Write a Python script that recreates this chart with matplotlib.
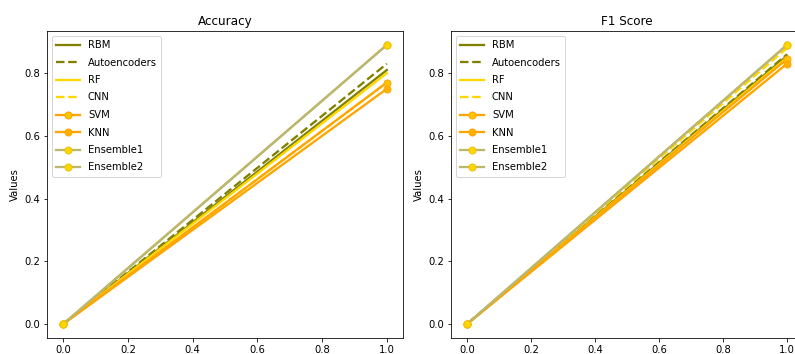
#import relevant libraries
import numpy as np
import matplotlib.pyplot as plt

#model names and scores
models = ['RBM', 'Autoencoders', 'RF', 'CNN', 'SVM', 'KNN', 'Ensemble1', 'Ensemble2']
accuracy = [0.81, 0.83, 0.80, 0.77, 0.77, 0.75, 0.89, 0.89]
f1_score = [0.855, 0.86, 0.85, 0.88, 0.845, 0.83, 0.89, 0.89]
x_points = [0, 1]

#line styles per model
styles = {
    'RBM': dict(color='#808000', ls='-'),
    'Autoencoders': dict(color='#808000', ls='--'),
    'RF': dict(color='#FFD700', ls='-'),
    'CNN': dict(color='#FFD700', ls='--'),
    'SVM': dict(color='#FFA500', ls='-', marker='o', mfc='#FFC400', mec='#FFA500'),
    'KNN': dict(color='#FFA500', ls='-', marker='o', mfc='#FFB000', mec='#FFA500'),
    'Ensemble1': dict(color='#BDB76B', ls='-', marker='o', mfc='#FFD700', mec='#F0C000'),
    'Ensemble2': dict(color='#BDB76B', ls='-', marker='o', mfc='#FFD700', mec='#F0C000'),
}

dpi = 72
fig = plt.figure(figsize=(795 / dpi, 354 / dpi), dpi=dpi)
ax1 = fig.add_axes([47 / 795, 16 / 354, 356 / 795, 307 / 354])
ax2 = fig.add_axes([451 / 795, 16 / 354, 352 / 795, 307 / 354])

for ax, scores, title in [(ax1, accuracy, 'Accuracy'), (ax2, f1_score, 'F1 Score')]:
    for name, val in zip(models, scores):
        ax.plot(x_points, [0, val], label=name, lw=2.3, ms=7, **styles[name])
    ax.set_title(title, fontsize=12)
    ax.set_ylabel('Values')
    ax.legend(loc='upper left', labelspacing=0.75, handlelength=2.4)

fig.savefig('out.png', dpi=dpi)
